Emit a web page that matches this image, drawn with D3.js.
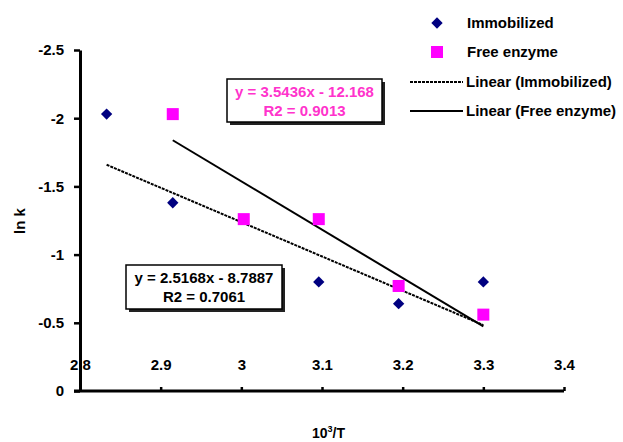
<!DOCTYPE html>
<html>
<head>
<meta charset="utf-8">
<script src="https://cdn.jsdelivr.net/npm/d3@7/dist/d3.min.js"></script>
<style>
  body { margin: 0; background: #fff; }
  svg { display: block; font-family: "Liberation Sans", Arial, sans-serif; font-weight: bold; }
</style>
</head>
<body>
<script>
"use strict"

// data
const immoX = [2.833, 2.915, 3.096, 3.195, 3.300];
const immoY = [-2.03, -1.38, -0.80, -0.64, -0.80];
const freeX = [2.915, 3.003, 3.096, 3.195, 3.300];
const freeY = [-2.03, -1.26, -1.26, -0.77, -0.56];

// trend lines (slope, intercept) as printed on the chart
const immoFit = [2.5168, -8.7887];
const freeFit = [3.5436, -12.168];

const xTicks = [2.8, 2.9, 3.0, 3.1, 3.2, 3.3, 3.4];
const yTicks = [0, -0.5, -1, -1.5, -2, -2.5];

const w = 623, h = 442;

const svg = d3.select('body')
  .append('svg')
  .attr('width', w)
  .attr('height', h);

const x = d3.scaleLinear().domain([2.8, 3.4]).range([80, 564]);
const y = d3.scaleLinear().domain([0, -2.5]).range([391, 50]);

// x axis (labels sit above the line)
const xAxis = d3.axisTop(x)
  .tickValues(xTicks)
  .tickFormat(d => String(+d.toFixed(1)))
  .tickSizeInner(4)
  .tickSizeOuter(0)
  .tickPadding(17);

const gx = svg.append('g')
  .attr('transform', 'translate(0,' + y(0) + ')')
  .call(xAxis);
gx.select('.domain').attr('d', 'M' + (x(2.8) - 6) + ',0H' + x(3.4)).attr('stroke-width', 3);
gx.selectAll('.tick line').attr('stroke-width', 2.5);
gx.selectAll('text').attr('font-size', 15).attr('font-weight', 'bold').attr('fill', '#000')
  .attr('font-family', '"Liberation Sans", Arial, sans-serif');

// y axis
const yAxis = d3.axisLeft(y)
  .tickValues(yTicks)
  .tickFormat(d => String(d))
  .tickSizeInner(6)
  .tickSizeOuter(0)
  .tickPadding(10);

const gy = svg.append('g')
  .attr('transform', 'translate(' + x(2.8) + ',0)')
  .call(yAxis);
gy.select('.domain').attr('stroke-width', 3);
gy.selectAll('.tick line').attr('stroke-width', 2.5);
gy.selectAll('text').attr('font-size', 15).attr('font-weight', 'bold').attr('fill', '#000')
  .attr('font-family', '"Liberation Sans", Arial, sans-serif');

// axis titles
svg.append('text')
  .attr('transform', 'translate(25,221) rotate(-90)')
  .attr('text-anchor', 'middle')
  .attr('font-size', 15)
  .text('ln k');

const xt = svg.append('text')
  .attr('x', 312)
  .attr('y', 438)
  .attr('font-size', 14);
xt.append('tspan').text('10');
xt.append('tspan').attr('font-size', 9).attr('dy', -6).text('3');
xt.append('tspan').attr('dy', 6).text('/T');

// trend lines
const immoLine = [d3.min(immoX), d3.max(immoX)].map(v => [v, immoFit[0] * v + immoFit[1]]);
const freeLine = [d3.min(freeX), d3.max(freeX)].map(v => [v, freeFit[0] * v + freeFit[1]]);
const line = d3.line().x(d => x(d[0])).y(d => y(d[1]));

svg.append('path')
  .attr('d', line(immoLine))
  .attr('fill', 'none')
  .attr('stroke', '#000')
  .attr('stroke-width', 2)
  .attr('stroke-dasharray', '3,1');

svg.append('path')
  .attr('d', line(freeLine))
  .attr('fill', 'none')
  .attr('stroke', '#000')
  .attr('stroke-width', 2);

// markers
const diamond = d3.symbol().type(d3.symbolSquare).size(64);

svg.selectAll('.immo')
  .data(d3.zip(immoX, immoY))
  .enter()
  .append('path')
  .attr('class', 'immo')
  .attr('d', diamond)
  .attr('transform', d => 'translate(' + x(d[0]) + ',' + y(d[1]) + ') rotate(45)')
  .attr('fill', '#000080');

svg.selectAll('.free')
  .data(d3.zip(freeX, freeY))
  .enter()
  .append('rect')
  .attr('class', 'free')
  .attr('x', d => x(d[0]) - 6)
  .attr('y', d => y(d[1]) - 6)
  .attr('width', 12)
  .attr('height', 12)
  .attr('fill', '#ff00ff');

// equation boxes
function eqBox(x0, y0, bw, bh, lines, color) {
  const g = svg.append('g');
  g.append('rect')
    .attr('x', x0 + 3).attr('y', y0 + 3)
    .attr('width', bw).attr('height', bh)
    .attr('fill', '#222');
  g.append('rect')
    .attr('x', x0).attr('y', y0)
    .attr('width', bw).attr('height', bh)
    .attr('fill', '#fff')
    .attr('stroke', '#000')
    .attr('stroke-width', 1.5);
  g.selectAll('text')
    .data(lines)
    .enter()
    .append('text')
    .attr('x', x0 + bw / 2)
    .attr('y', (d, i) => y0 + 18 + i * 19)
    .attr('text-anchor', 'middle')
    .attr('font-size', 15)
    .attr('fill', color)
    .text(d => d);
}

eqBox(227, 79, 155, 43, ['y = 3.5436x - 12.168', 'R2 = 0.9013'], '#ff33cc');
eqBox(126, 265, 156, 44, ['y = 2.5168x - 8.7887', 'R2 = 0.7061'], '#000');

// legend
const legend = svg.append('g');

legend.append('path')
  .attr('d', diamond)
  .attr('transform', 'translate(437,23) rotate(45)')
  .attr('fill', '#000080');
legend.append('rect')
  .attr('x', 431).attr('y', 46)
  .attr('width', 12).attr('height', 12)
  .attr('fill', '#ff00ff');
legend.append('line')
  .attr('x1', 410).attr('x2', 463)
  .attr('y1', 82).attr('y2', 82)
  .attr('stroke', '#000').attr('stroke-width', 2)
  .attr('stroke-dasharray', '3,1');
legend.append('line')
  .attr('x1', 410).attr('x2', 463)
  .attr('y1', 111).attr('y2', 111)
  .attr('stroke', '#000').attr('stroke-width', 2);

const legendNames = ['Immobilized', 'Free enzyme', 'Linear (Immobilized)', 'Linear (Free enzyme)'];
const legendY = [23, 52, 82, 111];
legend.selectAll('text')
  .data(legendNames)
  .enter()
  .append('text')
  .attr('x', (d, i) => i < 2 ? 467 : 466)
  .attr('y', (d, i) => legendY[i] + 5)
  .attr('font-size', 15)
  .text(d => d);
</script>
</body>
</html>
